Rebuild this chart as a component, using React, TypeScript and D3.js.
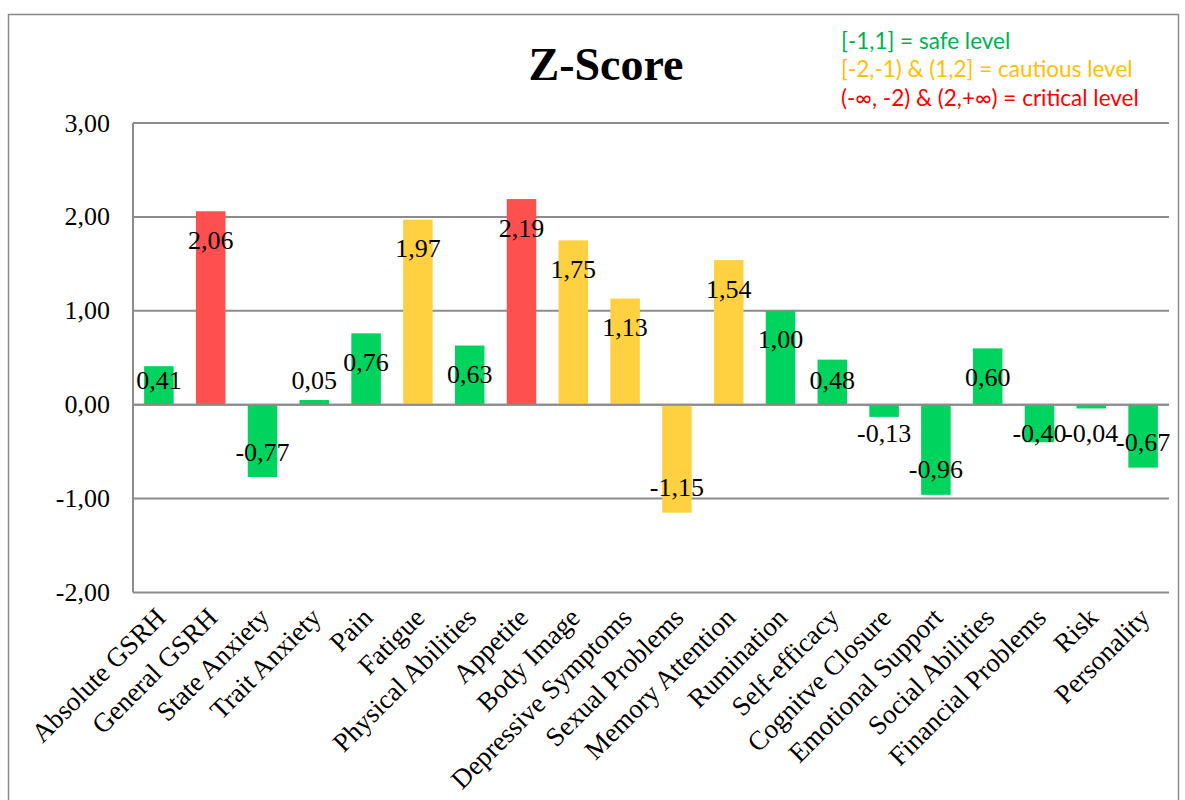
import React from "react";
import * as d3 from "d3";

const categories = [
  "Absolute GSRH", "General GSRH", "State Anxiety", "Trait Anxiety", "Pain", "Fatigue",
  "Physical Abilities", "Appetite", "Body Image", "Depressive Symptoms", "Sexual Problems",
  "Memory Attention", "Rumination", "Self-efficacy", "Cognitve Closure", "Emotional Support",
  "Social Abilities", "Financial Problems", "Risk", "Personality",
];
const zScores = [
  0.41, 2.06, -0.77, 0.05, 0.76, 1.97, 0.63, 2.19, 1.75, 1.13, -1.15,
  1.54, 1.0, 0.48, -0.13, -0.96, 0.6, -0.4, -0.04, -0.67,
];
const yTicks = [3, 2, 1, 0, -1, -2];
const legendLines = [
  { text: "[-1,1] = safe level", color: "#00B050" },
  { text: "[-2,-1) & (1,2] = cautious level", color: "#FFC000" },
  { text: "(-\u221E, -2) & (2,+\u221E) = critical level", color: "#FF0000" },
];

const SERIF = "'Liberation Serif', 'Times New Roman', serif";

function levelColor(v: number) {
  const a = Math.abs(v);
  if (a <= 1) return "#00D45F";
  if (a <= 2) return "#FFD040";
  return "#FF5050";
}

const fmt = (v: number) => d3.format(".2f")(v).replace(".", ",").replace("\u2212", "-");

export default function App() {
  const W = 1185, H = 800;
  const left = 133, right = 1169, top = 123, bottom = 592.5;
  const x = d3.scaleBand<string>().domain(categories).range([left, right]).paddingInner(0.43).paddingOuter(0.215);
  const y = d3.scaleLinear().domain([-2, 3]).range([bottom, top]);
  const zero = y(0);

  return (
    <svg width={W} height={H} style={{ position: "absolute", left: 0, top: 0, background: "#fff" }}>
      <rect x={8.5} y={14.5} width={1170} height={800} fill="#fff" stroke="#898989" strokeWidth={1.5} />
      <text x={606} y={80} textAnchor="middle" fontFamily={SERIF} fontWeight="bold" fontSize={46}>Z-Score</text>
      {legendLines.map((l, i) => (
        <text key={i} x={841} y={41 + i * 28.5} dy="0.35em" fill={l.color} fontFamily="Lato, 'Open Sans', sans-serif" fontSize={22.5}>{l.text}</text>
      ))}
      {yTicks.map((t) => (
        <g key={t}>
          <line x1={left} x2={right} y1={y(t)} y2={y(t)} stroke="#8c8c8c" strokeWidth={2} />
          <text x={110} y={y(t)} dy="0.33em" textAnchor="end" fontFamily={SERIF} fontSize={26}>{fmt(t)}</text>
        </g>
      ))}
      <line x1={left} x2={left} y1={top} y2={bottom} stroke="#8c8c8c" strokeWidth={2} />
      {categories.map((c, i) => {
        const v = zScores[i];
        const bx = x(c)!;
        const y0 = Math.min(y(v), zero);
        const h = Math.abs(y(v) - zero);
        return <rect key={c} x={bx} y={y0} width={x.bandwidth()} height={h} fill={levelColor(v)} />;
      })}
      <line x1={left} x2={right} y1={zero} y2={zero} stroke="#8c8c8c" strokeWidth={2} />
      {categories.map((c, i) => {
        const v = zScores[i];
        const cx = x(c)! + x.bandwidth() / 2;
        const cy = v >= 0 ? Math.min(y(v) + 29, zero - 24) : Math.max(y(v) - 25, zero + 29);
        return (
          <text key={"l" + c} x={cx} y={cy} dy="0.33em" textAnchor="middle" fontFamily={SERIF} fontSize={26}>{fmt(v)}</text>
        );
      })}
      {categories.map((c) => {
        const cx = x(c)! + x.bandwidth() / 2;
        return (
          <text key={"c" + c} transform={`translate(${cx + 2},613) rotate(-45)`} dy="0.33em" textAnchor="end" fontFamily={SERIF} fontSize={27}>{c}</text>
        );
      })}
    </svg>
  );
}
